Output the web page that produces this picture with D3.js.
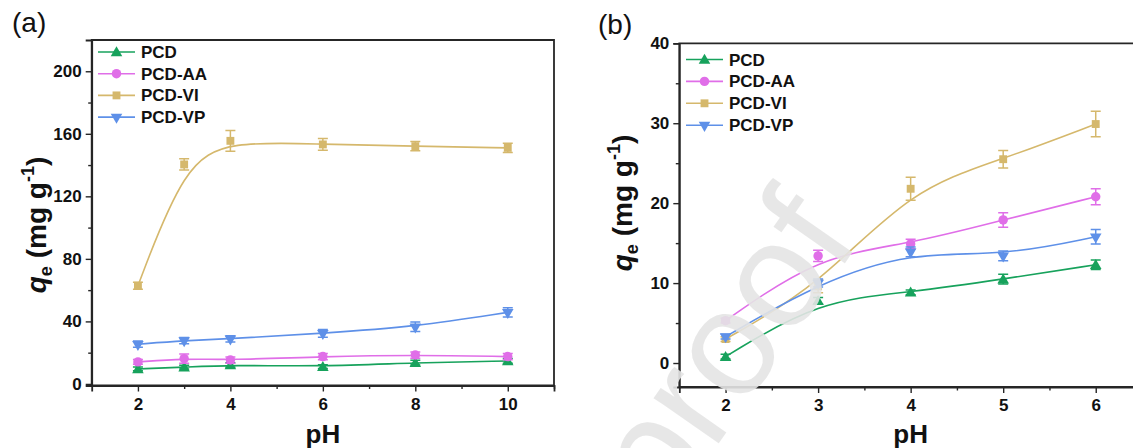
<!DOCTYPE html>
<html>
<head>
<meta charset="utf-8">
<script src="https://cdn.jsdelivr.net/npm/d3@7"></script>
<style>
  body { margin: 0; background: #fff; }
  svg { display: block; font-family: Arial, "Liberation Sans", sans-serif; }
</style>
</head>
<body>
<svg id="chart" width="1133" height="448"></svg>
<script>
// panel (a): pH 2 - 10
const phA = [2, 3, 4, 6, 8, 10];
const pcdA = [9.6, 10.7, 12.1, 11.1, 13.6, 14.7];
const pcdAErr = [1.2, 1.2, 1.5, 1.2, 1.5, 1.5];
const aaA = [14.1, 16.2, 15.3, 17.5, 18.5, 17.5];
const aaAErr = [1.5, 3, 2, 2, 2, 2];
const viA = [62.8, 140.4, 155.5, 153.2, 152.1, 151.0];
const viAErr = [2.2, 3.6, 6.6, 3.8, 3.0, 2.9];
const vpA = [25.4, 27.7, 28.9, 32.4, 36.6, 45.8];
const vpAErr = [2, 2, 2, 2.5, 3, 3];

// panel (b): pH 2 - 6
const phB = [2, 3, 4, 5, 6];
const pcdB = [0.8, 7.8, 8.85, 10.5, 12.3];
const pcdBErr = [0.3, 0.4, 0.3, 0.6, 0.6];
const aaB = [5.3, 13.4, 14.9, 17.9, 20.8];
const aaBErr = [0.3, 0.7, 0.6, 0.9, 1.0];
const viB = [3.0, 9.6, 21.8, 25.5, 29.9];
const viBErr = [0.3, 0.8, 1.45, 1.1, 1.6];
const vpB = [3.3, 10.0, 13.9, 13.4, 15.8];
const vpBErr = [0.3, 0.5, 0.6, 0.6, 0.9];

const seriesNames = ['PCD', 'PCD-AA', 'PCD-VI', 'PCD-VP'];
const colors = ['#17a25c', '#e06ee8', '#d5b86c', '#5e90e8'];
const symbols = ['up', 'circle', 'square', 'down'];

const svg = d3.select('#chart');

function markerPath(kind) {
  if (kind === 'circle') return d3.symbol().type(d3.symbolCircle).size(70)();
  if (kind === 'square') return d3.symbol().type(d3.symbolSquare).size(62)();
  return d3.symbol().type(d3.symbolTriangle).size(58)();
}

function drawMarker(g, kind, x, y, color) {
  g.append('path')
    .attr('d', markerPath(kind))
    .attr('fill', color)
    .attr('transform', `translate(${x},${y})` + (kind === 'down' ? ' rotate(180)' : kind === 'up' ? ' translate(0,1)' : ''));
}

function drawPanel(opt) {
  const g = svg.append('g');
  const x = d3.scaleLinear().domain(opt.xDomain).range([opt.left, opt.right]);
  const y = d3.scaleLinear().domain(opt.yDomain).range([opt.bottom, opt.top]);

  // frame
  g.append('path')
    .attr('d', `M${opt.left},${opt.bottom}V${opt.top}H${opt.right}V${opt.bottom}Z`)
    .attr('fill', 'none')
    .attr('stroke', '#262626')
    .attr('stroke-width', 1.8);

  // y axis
  g.append('g').attr('transform', `translate(${opt.left},0)`)
    .call(d3.axisLeft(y).tickValues(opt.yTicks).tickSize(6).tickPadding(4).tickFormat(d3.format('d')));
  g.append('g').attr('transform', `translate(${opt.left},0)`)
    .call(d3.axisLeft(y).tickValues(opt.yMinor).tickSize(3.5).tickFormat(''))
    .call(s => s.select('.domain').remove());

  // x axis
  g.append('g').attr('transform', `translate(0,${opt.bottom})`)
    .call(d3.axisBottom(x).tickValues(opt.xTicks).tickSize(6).tickPadding(6).tickFormat(d3.format('d')));
  g.append('g').attr('transform', `translate(0,${opt.bottom})`)
    .call(d3.axisBottom(x).tickValues(opt.xMinor).tickSize(3.5).tickFormat(''))
    .call(s => s.select('.domain').remove());

  g.selectAll('.domain').attr('stroke', '#262626').attr('stroke-width', 1.8);
  g.selectAll('.tick line').attr('stroke', '#262626').attr('stroke-width', 1.4);
  g.selectAll('.tick text')
    .attr('font-size', 17).attr('font-weight', 'bold').attr('fill', '#111')
    .attr('font-family', 'Arial, "Liberation Sans", sans-serif');

  // series
  opt.series.forEach((vals, i) => {
    const pts = opt.xs.map((px, j) => [x(px), y(vals[j])]);
    g.append('path')
      .attr('d', d3.line().curve(d3.curveBasis)(pts))
      .attr('fill', 'none')
      .attr('stroke', colors[i])
      .attr('stroke-width', 1.6);
    const errs = opt.errors[i];
    opt.xs.forEach((px, j) => {
      const cx = x(px);
      const y1 = y(vals[j] + errs[j]);
      const y2 = y(vals[j] - errs[j]);
      g.append('path')
        .attr('d', `M${cx},${y1}V${y2}M${cx - 5},${y1}H${cx + 5}M${cx - 5},${y2}H${cx + 5}`)
        .attr('stroke', colors[i])
        .attr('stroke-width', 1.5)
        .attr('fill', 'none');
      drawMarker(g, symbols[i], cx, y(vals[j]), colors[i]);
    });
  });

  // legend
  seriesNames.forEach((name, i) => {
    const ly = opt.legendY + i * opt.legendStep;
    g.append('line')
      .attr('x1', opt.legendX).attr('x2', opt.legendX + 37)
      .attr('y1', ly).attr('y2', ly)
      .attr('stroke', colors[i]).attr('stroke-width', 1.6);
    drawMarker(g, symbols[i], opt.legendX + 18.5, ly, colors[i]);
    g.append('text')
      .attr('x', opt.legendX + 43).attr('y', ly + 6)
      .attr('font-size', 17).attr('font-weight', 'bold').attr('fill', '#111')
      .text(name);
  });

  // axis titles
  g.append('text')
    .attr('x', (x(opt.xTicks[0]) + x(opt.xTicks[opt.xTicks.length - 1])) / 2)
    .attr('y', 443)
    .attr('text-anchor', 'middle')
    .attr('font-size', 26).attr('font-weight', 'bold').attr('fill', '#111')
    .text('pH');

  const yt = g.append('text')
    .attr('transform', `translate(${opt.yTitleX},${opt.yTitleY}) rotate(-90)`)
    .attr('text-anchor', 'middle')
    .attr('font-size', 28).attr('font-weight', 'bold').attr('fill', '#111');
  yt.append('tspan').attr('font-style', 'italic').text('q');
  yt.append('tspan').attr('font-size', 18).attr('dy', 6).text('e');
  yt.append('tspan').attr('dy', -6).text(' (mg g');
  yt.append('tspan').attr('font-size', 18).attr('dy', -12).text('-1');
  yt.append('tspan').attr('dy', 12).text(')');

  svg.append('text')
    .attr('x', opt.tagX).attr('y', opt.tagY)
    .attr('font-size', 28).attr('fill', '#111')
    .text(opt.tag);
}

drawPanel({
  tag: '(a)', tagX: 12, tagY: 32,
  left: 91.7, right: 554, top: 40, bottom: 385.5,
  xDomain: [1, 11], yDomain: [-1, 220],
  xTicks: [2, 4, 6, 8, 10], xMinor: [3, 5, 7, 9, 11],
  yTicks: [0, 40, 80, 120, 160, 200], yMinor: [20, 60, 100, 140, 180],
  xs: phA,
  series: [pcdA, aaA, viA, vpA],
  errors: [pcdAErr, aaAErr, viAErr, vpAErr],
  legendX: 98, legendY: 52, legendStep: 21.7,
  yTitleX: 46, yTitleY: 225
});

drawPanel({
  tag: '(b)', tagX: 598, tagY: 34,
  left: 679.3, right: 1142, top: 43.3, bottom: 387,
  xDomain: [1.5, 6.5], yDomain: [-3, 40],
  xTicks: [2, 3, 4, 5, 6], xMinor: [2.5, 3.5, 4.5, 5.5],
  yTicks: [0, 10, 20, 30, 40], yMinor: [5, 15, 25, 35],
  xs: phB,
  series: [pcdB, aaB, viB, vpB],
  errors: [pcdBErr, aaBErr, viBErr, vpBErr],
  legendX: 686, legendY: 59.5, legendStep: 21.9,
  yTitleX: 632, yTitleY: 203
});

// faint watermark crossing panel (b)
svg.append('text')
  .attr('transform', 'translate(665,520) rotate(-55)')
  .attr('font-size', 150)
  .attr('fill', '#e4e4e4')
  .attr('fill-opacity', 0.9)
  .text('proof');
</script>
</body>
</html>
